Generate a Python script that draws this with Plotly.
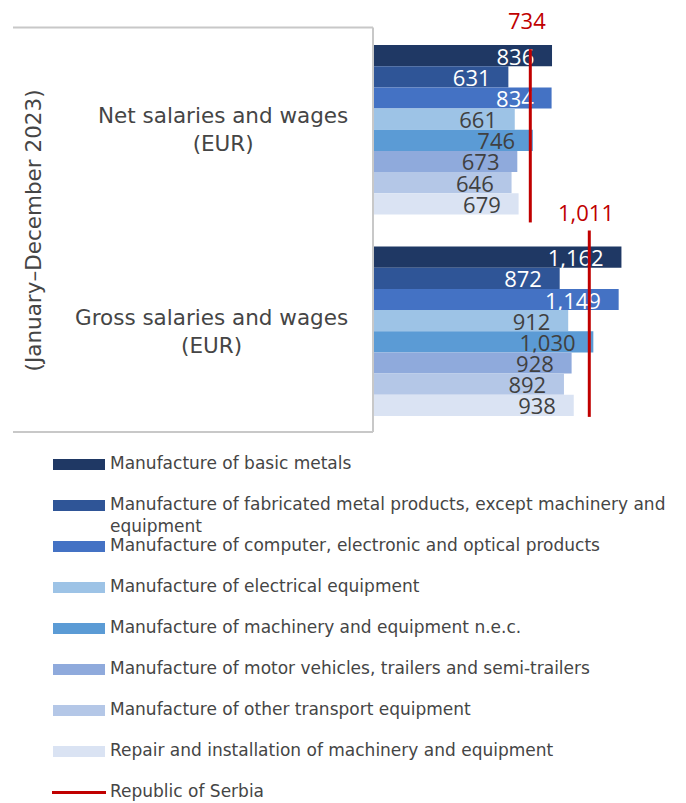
import plotly.graph_objects as go

# ---------------- data ----------------
groups = ["Net salaries and wages<br>(EUR)", "Gross salaries and wages<br>(EUR)"]
series_names = [
    "Manufacture of basic metals",
    "Manufacture of fabricated metal products, except machinery and<br>equipment",
    "Manufacture of computer, electronic and optical products",
    "Manufacture of electrical equipment",
    "Manufacture of machinery and equipment n.e.c.",
    "Manufacture of motor vehicles, trailers and semi-trailers",
    "Manufacture of other transport equipment",
    "Repair and installation of machinery and equipment",
]
net_values = [836, 631, 834, 661, 746, 673, 646, 679]
gross_values = [1162, 872, 1149, 912, 1030, 928, 892, 938]
serbia_name = "Republic of Serbia"
serbia_values = [734, 1011]
period_label = "(January\u2013December 2023)"

# ---------------- style ----------------
colors = ["#1F3864", "#2F5597", "#4472C4", "#9DC3E6", "#5B9BD5", "#8FAADC", "#B4C7E7", "#DAE3F3"]
label_colors = ["white", "white", "white", "#404040", "#404040", "#404040", "#404040", "#404040"]
red = "#C00000"
txt = "#454545"
TFONT = "DejaVu Sans"
NFONT = "Open Sans"

OFF = 8  # page body margin
W, H = 686 - OFF, 803 - OFF
L, R, T, B = 374 - OFF, 6, 21, 371
XMAX = 1437
pw, ph = W - L - R, H - T - B


def px2x(px):  # reference pixel -> paper x
    return (px - OFF - L) / pw


def py2y(py):  # reference pixel -> paper y
    return (H - B - (py - OFF)) / ph


fig = go.Figure()
group_pos = list(range(len(groups)))
for i, name in enumerate(series_names):
    vals = [net_values[i], gross_values[i]]
    fig.add_trace(go.Bar(
        y=group_pos, x=vals, orientation="h", name=name,
        marker=dict(color=colors[i], line=dict(width=0)),
        text=[f"{v:,}\u2007\u200a" for v in vals],
        textposition="inside", insidetextanchor="end", textangle=0,
        constraintext="none",
        textfont=dict(family=NFONT, size=22, color=label_colors[i]),
        showlegend=False, hoverinfo="x",
    ))

# Serbia reference lines (vertical extent per group, relative to group centre)
line_extent = [(-0.40, 0.46), (-0.50, 0.425)]
label_py = [20, 212]
for g, v in enumerate(serbia_values):
    lo, hi = line_extent[g]
    fig.add_trace(go.Scatter(
        x=[v, v], y=[g + lo, g + hi], mode="lines",
        line=dict(color=red, width=3), showlegend=False, hoverinfo="x",
    ))
    fig.add_annotation(x=v, y=py2y(label_py[g]), xref="x", yref="paper", xshift=-3,
                       text=f"{v:,}", showarrow=False, xanchor="center", yanchor="middle",
                       font=dict(family=NFONT, size=22, color=red))

# group labels
for g, lab in enumerate(groups):
    fig.add_annotation(x=px2x(350), y=g, xref="paper", yref="y", text=lab,
                       showarrow=False, xanchor="right", yanchor="middle", align="center",
                       font=dict(family=TFONT, size=21.5, color=txt))

fig.add_annotation(x=px2x(33), y=0.5, xref="paper", yref="paper", text=period_label,
                   textangle=-90, showarrow=False, xanchor="center", yanchor="middle",
                   font=dict(family=TFONT, size=21.5, color=txt))

# table borders
shapes = []
lc = "#C8C8C8"
shapes.append(dict(type="line", xref="paper", yref="paper", x0=px2x(13), x1=px2x(373),
                   y0=py2y(27.5), y1=py2y(27.5), line=dict(color=lc, width=2)))
shapes.append(dict(type="line", xref="paper", yref="paper", x0=px2x(13), x1=px2x(373),
                   y0=py2y(432), y1=py2y(432), line=dict(color=lc, width=2)))
shapes.append(dict(type="line", xref="paper", yref="paper", x0=px2x(373), x1=px2x(373),
                   y0=py2y(27.5), y1=py2y(432), line=dict(color=lc, width=2)))

# manual legend
leg_y0, leg_dy = 464.5, 41
for i, name in enumerate(series_names):
    yc = leg_y0 + i * leg_dy
    shapes.append(dict(type="rect", xref="paper", yref="paper", x0=px2x(53), x1=px2x(105),
                       y0=py2y(yc - 5.5), y1=py2y(yc + 5.5), fillcolor=colors[i], line=dict(width=0)))
    fig.add_annotation(x=px2x(108), y=py2y(yc - 13.5), xref="paper", yref="paper", text=name,
                       showarrow=False, xanchor="left", yanchor="top", align="left",
                       font=dict(family=TFONT, size=17, color=txt))
yc = leg_y0 + len(series_names) * leg_dy
shapes.append(dict(type="line", xref="paper", yref="paper", x0=px2x(52), x1=px2x(106),
                   y0=py2y(yc), y1=py2y(yc), line=dict(color=red, width=3)))
fig.add_annotation(x=px2x(108), y=py2y(yc - 13.5), xref="paper", yref="paper", text=serbia_name,
                   showarrow=False, xanchor="left", yanchor="top", align="left",
                   font=dict(family=TFONT, size=17, color=txt))

fig.update_layout(
    width=W, height=H, margin=dict(l=L, r=R, t=T, b=B, autoexpand=False),
    barmode="group", bargap=0.16, bargroupgap=0,
    plot_bgcolor="white", paper_bgcolor="white",
    shapes=shapes, showlegend=False,
    xaxis=dict(range=[0, XMAX], visible=False, fixedrange=True),
    yaxis=dict(range=[1.5, -0.5], visible=False, fixedrange=True),
    font=dict(family=TFONT, color=txt),
)

fig.write_html("out.html")
